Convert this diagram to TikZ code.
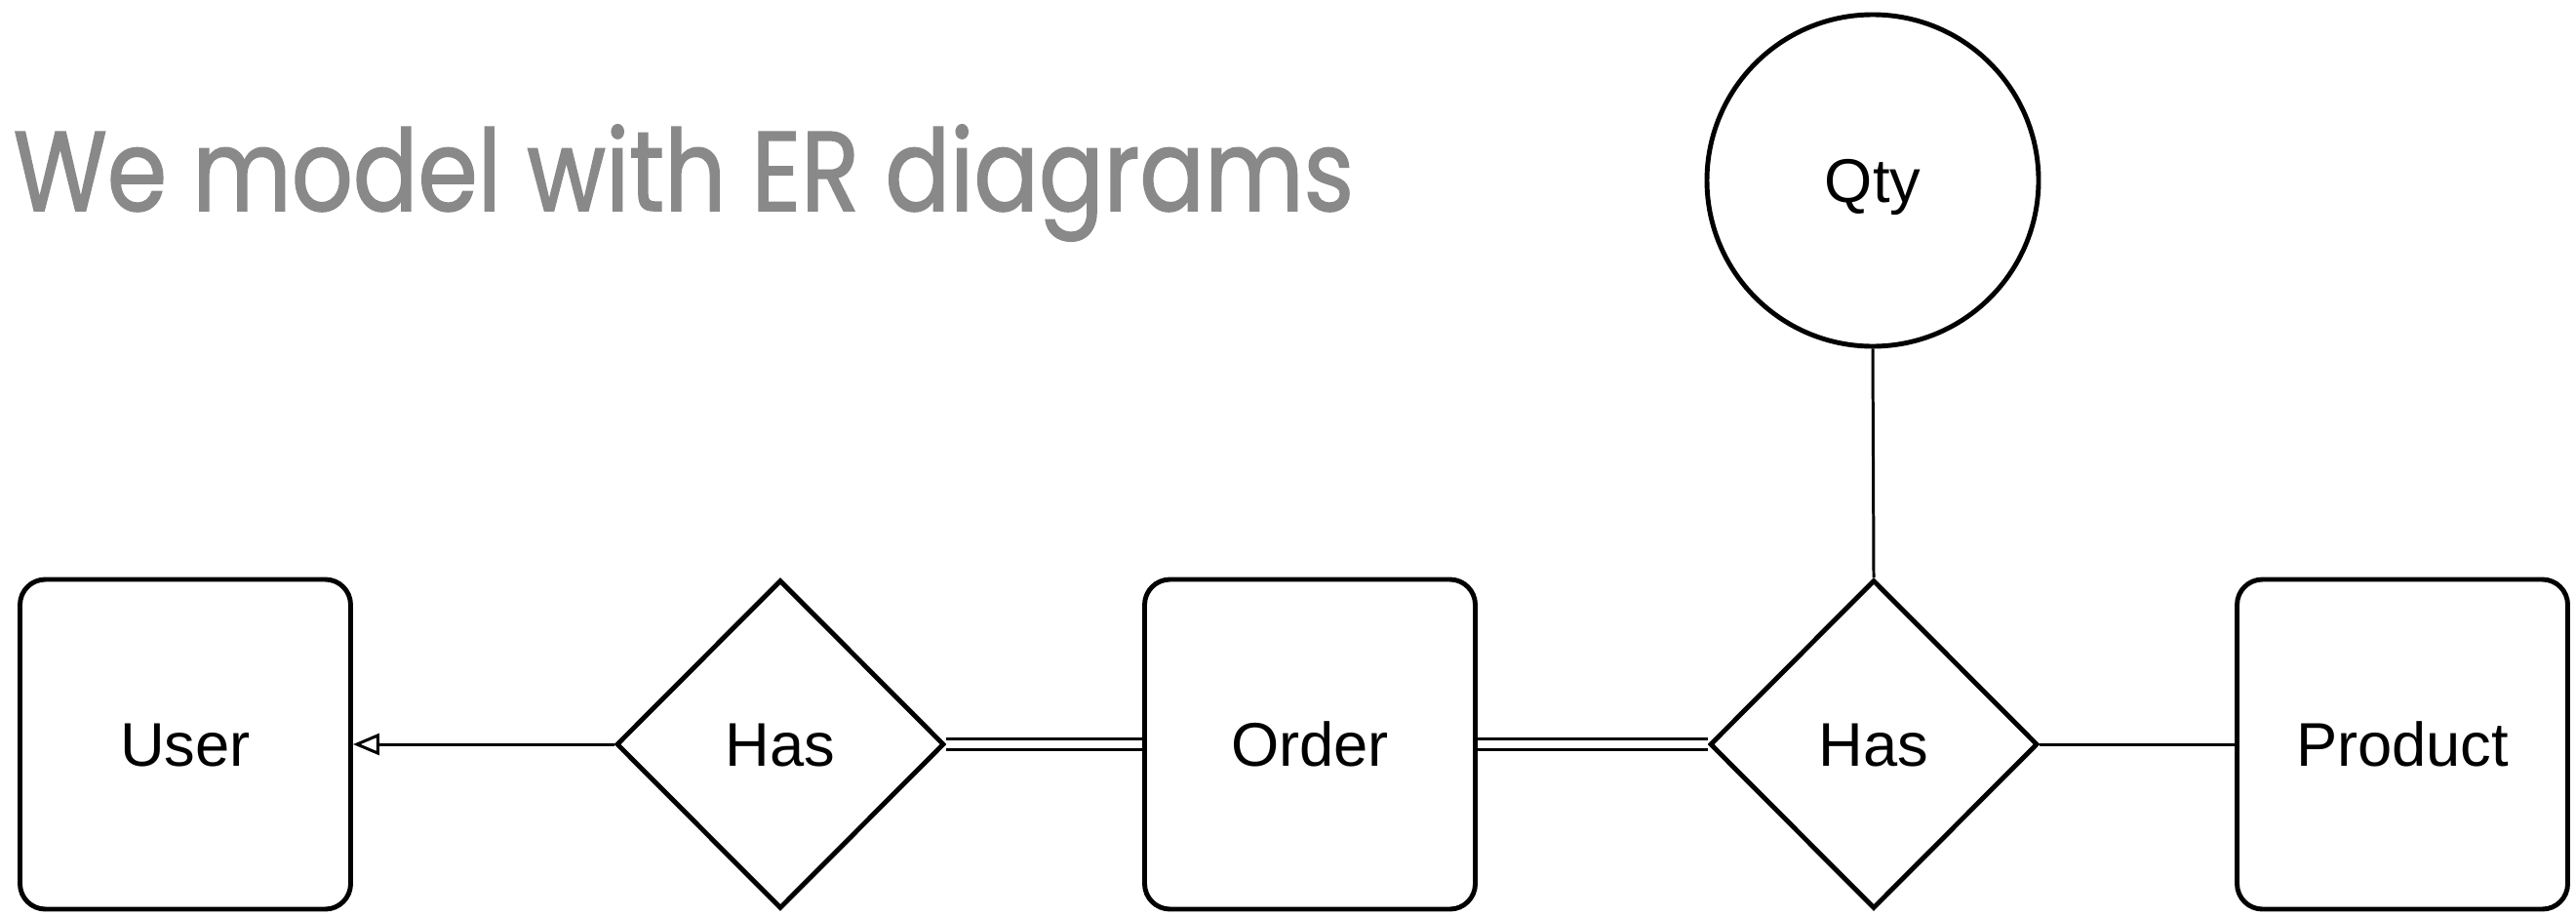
\documentclass[tikz,border=0pt]{standalone}
\usepackage{fontspec}
\setmainfont{Liberation Sans}
\newfontfamily\titlefont{Poppins}[FakeStretch=0.85,FakeBold=1.3]
\usetikzlibrary{positioning,arrows.meta,shapes.geometric}
\definecolor{TitleGray}{HTML}{898989}

\begin{document}
\begin{tikzpicture}[
      lbl/.style={font=\fontsize{18}{20}\selectfont,text height=12.9pt,text depth=0pt},
      ent/.style={lbl,draw,rounded corners=0.26cm,line width=1.4pt,
                   minimum width=3.39cm,minimum height=3.38cm},
      rel/.style={lbl,draw,diamond,line width=1.4pt,inner sep=0pt,
                   minimum width=3.36cm,minimum height=3.37cm},
      attr/.style={lbl,draw,circle,line width=1.4pt,minimum size=3.4cm},
      link/.style={line width=0.85pt},
      twice/.style={line width=0.85pt,double,double distance=2.4pt}]
    \useasboundingbox (0,0) rectangle (26.41,9.37);
    \node[anchor=base west,inner sep=0pt,text=TitleGray,font=\titlefont\fontsize{33}{36}\selectfont]
      (title) at (0.13,7.21) {We model with ER diagrams};
    \node[ent]  (user)  at (1.9,1.74)   {User};
    \node[rel]  (has1)  at (8.0,1.74)   {Has};
    \node[ent]  (order) at (13.43,1.74) {Order};
    \node[rel]  (has2)  at (19.21,1.74) {Has};
    \node[ent]  (prod)  at (24.63,1.74) {Product};
    \node[attr] (qty)   at (19.2,7.52)  {Qty};
    \draw[link,-{Triangle[open,length=0.27cm,width=0.22cm]}] (has1.west) -- (user.east);
    \draw[twice] (has1.east) -- (order.west);
    \draw[twice] (order.east) -- (has2.west);
    \draw[link] (has2.east) -- (prod.west);
    \draw[link] (qty.south) -- (has2.north);
  \end{tikzpicture}
\end{document}
